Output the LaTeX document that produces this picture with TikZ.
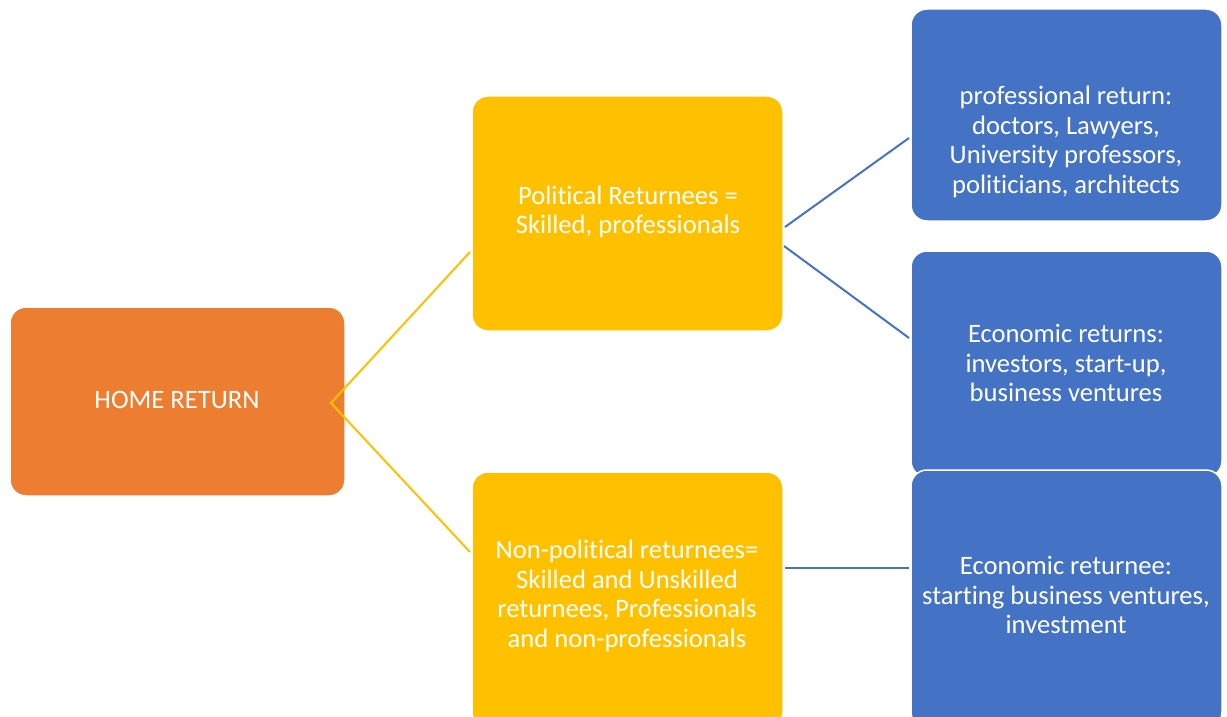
\documentclass[tikz,border=0pt]{standalone}
\usepackage{fontspec}
\setmainfont{Carlito}[Ligatures=NoCommon]
\definecolor{cOrange}{HTML}{ED7D31}
\definecolor{cYellow}{HTML}{FFC000}
\definecolor{cBlue}{HTML}{4472C4}
\begin{document}
\begin{tikzpicture}[x=1pt,y=-1pt,
  box/.style={draw=white,line width=1.5pt,rounded corners=16pt},
  txt/.style={text=white,align=center,font=\fontsize{26.6}{29.5}\selectfont,inner sep=0pt},
  yline/.style={draw=cYellow,line width=2pt},
  bline/.style={draw=cBlue,line width=2pt}]
\useasboundingbox (0,0) rectangle (1227,717);
% boxes
\path[box,fill=cOrange] (10,307) rectangle (345,496);
\path[box,fill=cYellow] (472,96) rectangle (783,331);
\path[box,fill=cYellow] (472,472) rectangle (783,728);
\path[box,fill=cBlue] (911,9) rectangle (1222,221);
\path[box,fill=cBlue] (911,251) rectangle (1222,477);
\path[box,fill=cBlue] (911,470) rectangle (1222,728);
% coordinates
\coordinate (hj) at (331,403);
\coordinate (p1in) at (470,252);
\coordinate (p2in) at (470,552);
\coordinate (p1a) at (785,227);
\coordinate (p1b) at (784,246);
\coordinate (p2o) at (785,568);
\coordinate (b1in) at (909,138);
\coordinate (b2in) at (909,338);
\coordinate (b3in) at (909,568);
% texts
\node[txt] (home) at (177,400) {HOME RETURN};
\node[txt] (pol) at (628,212) {Political Returnees =\\Skilled, professionals};
\node[txt] (npol) at (627,596) {Non-political returnees=\\Skilled and Unskilled\\returnees, Professionals\\and non-professionals};
\node[txt] (prof) at (1066,142) {professional return:\\doctors, Lawyers,\\University professors,\\politicians, architects};
\node[txt] (econ) at (1066,363) {Economic returns:\\investors, start-up,\\business ventures};
\node[txt] (econ2) at (1066,595) {Economic returnee:\\starting business ventures,\\investment};
% connectors
\draw[yline] (p1in) -- (hj) -- (p2in);
\draw[bline] (p1a) -- (b1in);
\draw[bline] (p1b) -- (b2in);
\draw[bline] (p2o) -- (b3in);
\end{tikzpicture}
\end{document}
